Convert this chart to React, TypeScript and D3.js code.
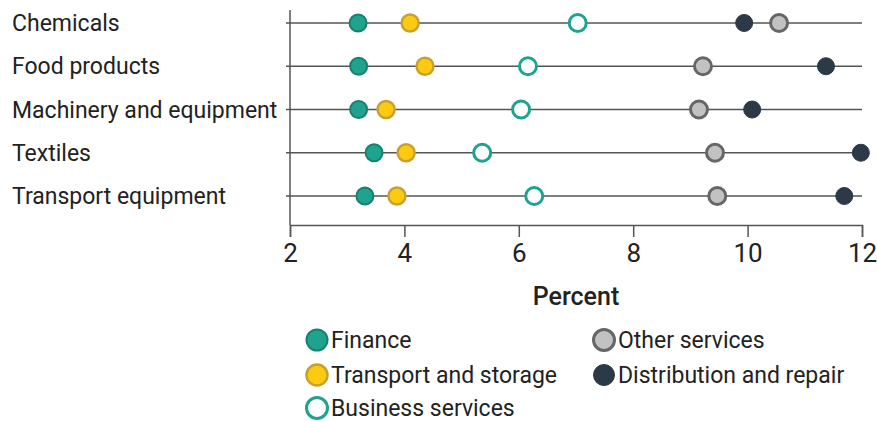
import * as d3 from "d3";
import { useEffect, useRef } from "react";

const industries = [
  "Chemicals",
  "Food products",
  "Machinery and equipment",
  "Textiles",
  "Transport equipment",
];

const finance = [3.19, 3.2, 3.2, 3.47, 3.31];
const transportStorage = [4.1, 4.36, 3.68, 4.03, 3.87];
const businessServices = [7.03, 6.16, 6.04, 5.36, 6.27];
const otherServices = [10.55, 9.22, 9.15, 9.43, 9.47];
const distributionRepair = [9.94, 11.37, 10.08, 11.98, 11.69];

const xTicks = [2, 4, 6, 8, 10, 12];

const FONT = "'Roboto', 'Liberation Sans', sans-serif";

interface Series {
  name: string;
  values: number[];
  fill: string;
  stroke: string;
  strokeWidth: number;
}

const series: Series[] = [
  { name: "Finance", values: finance, fill: "#1fa38e", stroke: "#17816f", strokeWidth: 2 },
  { name: "Transport and storage", values: transportStorage, fill: "#fdca12", stroke: "#c8a030", strokeWidth: 2.5 },
  { name: "Business services", values: businessServices, fill: "#ffffff", stroke: "#1fa38e", strokeWidth: 3 },
  { name: "Other services", values: otherServices, fill: "#c2c2c2", stroke: "#666666", strokeWidth: 3 },
  { name: "Distribution and repair", values: distributionRepair, fill: "#2c3a47", stroke: "#2c3a47", strokeWidth: 1 },
];

const App = () => {
  const svgRef = useRef<SVGSVGElement | null>(null);

  useEffect(() => {
    const width = 877;
    const height = 422;
    const svg = d3.select(svgRef.current);
    svg.selectAll("*").remove();
    svg.attr("width", width).attr("height", height);

    const x = d3.scaleLinear().domain([2, 12]).range([290, 862]);
    const y = d3.scalePoint<string>().domain(industries).range([23, 196]);
    const axisY = 225;

    // y axis line
    svg
      .append("line")
      .attr("x1", x(2))
      .attr("x2", x(2))
      .attr("y1", 10)
      .attr("y2", axisY)
      .attr("stroke", "#555")
      .attr("stroke-width", 1.5);

    // category lines + labels
    industries.forEach((name) => {
      svg
        .append("line")
        .attr("x1", x(2) - 4)
        .attr("x2", x(12))
        .attr("y1", y(name)!)
        .attr("y2", y(name)!)
        .attr("stroke", "#555")
        .attr("stroke-width", 1.5);
      svg
        .append("text")
        .attr("x", 12)
        .attr("y", y(name)!)
        .attr("dy", "0.35em")
        .attr("font-family", FONT)
        .attr("font-size", 23)
        .attr("fill", "#222")
        .text(name);
    });

    // x axis
    const gX = svg
      .append("g")
      .attr("transform", `translate(0, ${axisY})`)
      .call(d3.axisBottom(x).tickValues(xTicks).tickSize(12).tickPadding(7));
    gX.select(".domain").attr("stroke", "#555").attr("stroke-width", 1.5);
    gX.selectAll(".tick line").attr("stroke", "#555").attr("stroke-width", 1.5);
    gX.selectAll(".tick text")
      .attr("font-family", FONT)
      .attr("font-size", 26)
      .attr("fill", "#222");

    svg
      .append("text")
      .attr("x", 576)
      .attr("y", 305)
      .attr("text-anchor", "middle")
      .attr("font-family", FONT)
      .attr("font-size", 25)
      .attr("font-weight", 500)
      .attr("fill", "#222")
      .text("Percent");

    // dots
    series.forEach((s) => {
      svg
        .append("g")
        .selectAll("circle")
        .data(s.values)
        .enter()
        .append("circle")
        .attr("cx", (d) => x(d))
        .attr("cy", (_d, i) => y(industries[i])!)
        .attr("r", 8.5)
        .attr("fill", s.fill)
        .attr("stroke", s.stroke)
        .attr("stroke-width", s.strokeWidth);
    });

    // legend
    const legendPos = [
      [317, 340],
      [317, 375],
      [317, 408],
      [604, 340],
      [604, 375],
    ];
    series.forEach((s, i) => {
      const [lx, ly] = legendPos[i];
      svg
        .append("circle")
        .attr("cx", lx)
        .attr("cy", ly)
        .attr("r", 10.5)
        .attr("fill", s.fill)
        .attr("stroke", s.stroke)
        .attr("stroke-width", s.strokeWidth);
      svg
        .append("text")
        .attr("x", lx + 14)
        .attr("y", ly)
        .attr("dy", "0.35em")
        .attr("font-family", FONT)
        .attr("font-size", 23)
        .attr("fill", "#222")
        .text(s.name);
    });
  }, []);

  return (
    <svg
      ref={svgRef}
      style={{ position: "absolute", left: 0, top: 0, background: "#fff" }}
    ></svg>
  );
};

export default App;
